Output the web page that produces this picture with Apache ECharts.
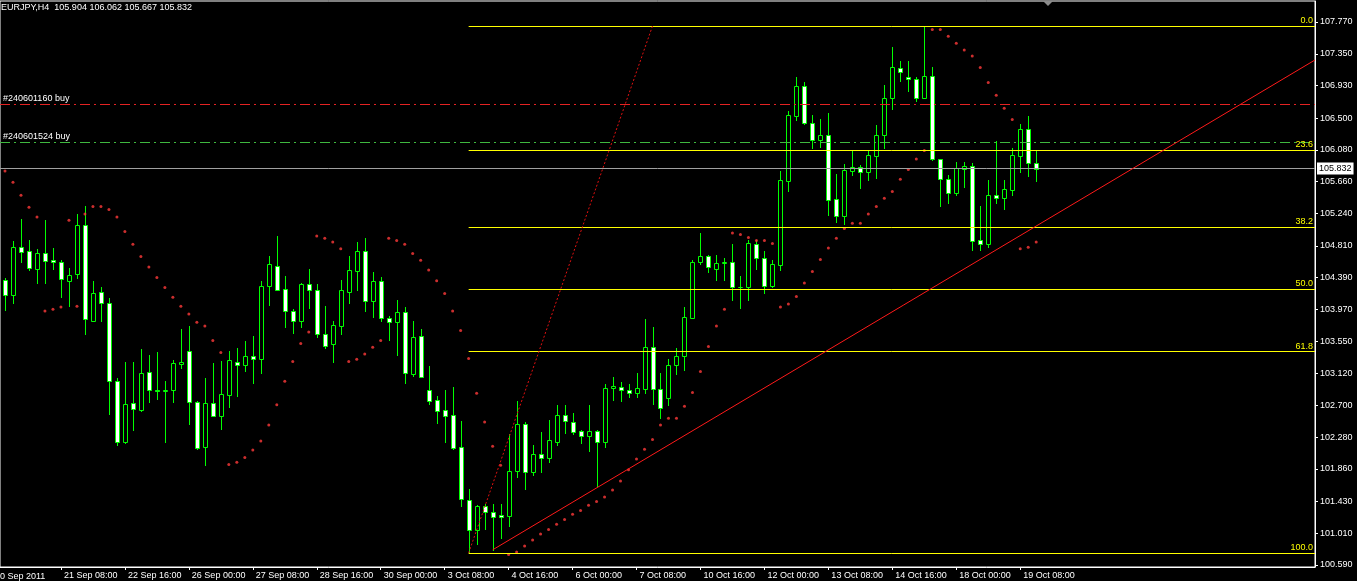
<!DOCTYPE html>
<html>
<head>
<meta charset="utf-8">
<script src="https://cdn.jsdelivr.net/npm/echarts@6/dist/echarts.min.js"></script>
<style>
html,body{margin:0;padding:0;background:#000;}
#chart{width:1357px;height:581px;}
</style>
</head>
<body>
<div id="chart"></div>
<script>
// ---------- DATA (EURJPY, H4) ----------
const symbolName = 'EURJPY,H4';
const firstDateLabel = '20 Sep 2011';

const opens = [
104.36,104.16,104.79,104.74,104.51,104.71,104.62,104.59,104.35,104.44,
105.08,103.82,104.20,104.06,103.02,102.22,102.73,102.64,103.14,102.90,
102.89,102.90,103.25,103.42,102.75,102.15,102.73,102.56,102.84,103.28,
103.24,103.35,103.32,104.28,104.55,104.24,103.95,103.81,104.31,104.22,
103.65,103.51,103.75,104.20,104.48,104.74,104.08,104.34,103.85,103.80,
103.93,103.12,103.62,102.90,102.77,102.64,102.57,102.15,101.45,101.05,
101.37,101.29,101.25,101.24,101.83,102.46,101.82,102.06,102.01,102.22,
102.57,102.48,102.36,102.30,102.36,102.22,102.93,102.94,102.91,102.87,
102.92,103.47,102.92,102.80,103.23,103.36,103.86,104.59,104.67,104.50,
104.58,104.59,104.26,104.27,104.84,104.65,104.28,104.56,105.67,106.53,
106.92,106.43,106.21,106.27,105.43,105.21,105.80,105.85,105.78,106.00,
106.27,106.77,107.16,107.04,107.01,106.77,107.05,105.96,105.69,105.51,
105.83,105.87,104.89,104.83,105.48,105.44,105.55,106.00,106.36,105.904
];
const highs = [
104.39,104.87,105.17,104.89,104.77,105.15,104.78,104.62,104.52,105.23,
105.34,104.35,104.26,104.12,103.06,103.27,103.27,103.45,103.37,103.40,
103.02,103.30,103.71,103.75,102.76,103.06,103.26,103.29,103.42,103.46,
103.55,103.62,104.35,104.68,104.94,104.41,103.97,104.32,104.50,104.30,
104.01,103.81,104.36,104.68,104.86,104.91,104.46,104.40,103.88,104.09,
104.00,103.81,103.71,103.22,102.82,102.90,102.95,102.50,101.60,101.38,
101.40,101.40,101.40,102.32,102.76,102.48,102.18,102.35,102.51,102.71,
102.71,102.60,102.38,102.71,102.38,102.98,103.08,103.01,102.98,103.13,
103.84,103.74,103.13,103.31,103.46,104.00,104.62,104.98,104.69,104.69,
104.65,104.84,104.41,104.89,104.89,104.74,104.62,105.80,106.59,107.04,
106.98,106.54,106.49,106.57,105.76,105.89,106.06,105.88,106.07,106.41,
106.94,107.44,107.25,107.25,107.04,107.717,107.18,105.96,105.75,105.92,
105.92,105.90,105.34,105.68,106.20,105.68,106.10,106.42,106.53,106.062
];
const lows = [
103.96,104.06,104.59,104.49,104.32,104.32,104.51,104.14,104.01,104.39,
103.64,103.81,103.81,102.58,102.18,102.20,102.38,102.63,102.75,102.79,
102.22,102.74,103.20,102.46,102.13,101.91,102.56,102.39,102.68,102.82,
103.15,102.99,103.13,104.03,104.22,103.74,103.66,103.74,103.99,103.60,
103.46,103.28,103.65,104.06,104.23,103.95,103.87,103.82,103.56,103.37,
103.00,103.09,103.07,102.72,102.47,102.21,102.13,101.37,100.749,100.87,
101.07,100.79,100.95,101.10,101.76,101.59,101.78,101.82,101.95,102.18,
102.34,102.32,102.20,102.10,101.64,102.15,102.77,102.76,102.81,102.81,
102.87,102.72,102.53,102.71,103.12,103.17,103.85,104.57,104.46,104.36,
104.36,104.09,103.99,104.10,104.50,104.18,104.27,104.49,105.54,106.47,
106.42,106.10,106.12,105.22,105.13,105.10,105.75,105.57,105.68,105.71,
106.11,106.62,106.99,106.86,106.73,106.76,105.94,105.34,105.38,105.48,
105.59,104.76,104.76,104.79,105.38,105.30,105.48,105.78,105.74,105.667
];
const closes = [
104.16,104.79,104.73,104.52,104.71,104.61,104.60,104.37,104.43,105.08,
103.84,104.18,104.06,103.02,102.22,102.72,102.65,103.13,102.90,102.89,
102.90,103.26,103.28,102.74,102.14,102.73,102.56,102.85,103.30,103.24,
103.35,103.32,104.28,104.57,104.23,103.95,103.81,104.31,104.22,103.65,
103.49,103.76,104.22,104.49,104.74,104.08,104.34,103.85,103.80,103.93,
103.13,103.61,103.07,102.76,102.63,102.56,102.14,101.46,101.05,101.37,
101.29,101.22,101.22,101.83,102.46,101.82,102.06,102.01,102.24,102.57,
102.49,102.35,102.30,102.36,102.22,102.93,102.96,102.90,102.87,102.93,
103.47,102.92,102.66,103.23,103.36,103.87,104.59,104.68,104.53,104.58,
104.59,104.26,104.27,104.85,104.65,104.28,104.57,105.68,106.54,106.93,
106.43,106.21,106.27,105.42,105.21,105.81,105.85,105.78,106.01,106.27,
106.77,107.17,107.11,107.01,106.77,107.05,105.96,105.69,105.51,105.84,
105.87,104.88,104.83,105.48,105.44,105.56,106.01,106.36,105.90,105.832
];
// Parabolic SAR
const sar = [
105.80,105.65,105.48,105.32,105.19,103.95,103.97,104.00,105.15,104.01,
105.23,105.33,105.33,105.29,105.19,105.00,104.83,104.67,104.53,104.39,
104.26,104.13,104.01,103.91,103.80,103.75,103.56,103.40,101.92,101.95,
102.01,102.11,102.23,102.44,102.71,103.02,103.28,103.52,103.67,104.94,
104.91,104.86,104.77,103.28,103.31,103.38,103.47,103.56,104.91,104.88,
104.83,104.71,104.62,104.49,104.35,104.18,103.95,103.69,103.32,102.86,
102.48,102.16,101.91,100.73,100.76,100.84,100.92,101.00,101.06,101.13,
101.19,101.26,101.31,101.38,101.43,101.49,101.58,101.70,101.85,101.99,
102.12,102.25,102.44,102.53,102.53,102.69,102.87,103.15,103.48,103.75,
103.97,104.98,104.96,104.92,104.88,104.88,104.84,104.00,104.04,104.14,
104.32,104.47,104.63,104.78,104.91,105.04,105.11,105.11,105.23,105.33,
105.44,105.53,105.69,105.82,105.96,106.07,107.67,107.67,107.58,107.49,
107.40,107.32,107.17,106.97,106.80,106.63,106.48,104.77,104.79,104.86
];

// time-axis labels (bar index -> label)
const xTickIndex = [7,15,23,31,39,47,55,63,71,79,87,95,103,111,119,127];
const xTickLabels = ['21 Sep 08:00','22 Sep 16:00','26 Sep 00:00','27 Sep 08:00','28 Sep 16:00',
  '30 Sep 00:00','3 Oct 08:00','4 Oct 16:00','6 Oct 00:00','7 Oct 08:00','10 Oct 16:00',
  '12 Oct 00:00','13 Oct 08:00','14 Oct 16:00','18 Oct 00:00','19 Oct 08:00'];
// price-axis labels
const yTickValues = [107.770,107.350,106.930,106.500,106.080,105.660,105.240,104.810,104.390,
  103.970,103.550,103.120,102.700,102.280,101.860,101.430,101.010,100.590];

// Fibonacci retracement
const fibHigh = 107.717, fibLow = 100.749;
const fibStartIndex = 58, fibEndIndex = 81;
const fibLevels = [0.0, 23.6, 38.2, 50.0, 61.8, 100.0];
// trend line anchors [barIndex, price]
const trendStart = [61, 100.79];
const trendEnd = [163.875, 107.268];
// order lines
const orderNames = ['#240601160 buy', '#240601524 buy'];
const orderPrices = [106.682, 106.183];
const orderColors = ['#e42222', '#3fb83f'];
const lastPrice = 105.832;

// axis ranges
const xMin = -0.625, xMax = 163.875;
const yMin = 100.5633, yMax = 108.0477;

// ---------- CHART ----------
const LIME = '#00ff00';
const FONT = 'Liberation Sans, Arial, sans-serif';
const candleData = opens.map((o, i) => [i, o, highs[i], lows[i], closes[i]]);
const sarData = sar.map((v, i) => [i, v]);
const n = opens.length;

function renderCandle(params, api) {
  const i = api.value(0), o = api.value(1), h = api.value(2), l = api.value(3), c = api.value(4);
  const pO = api.coord([i, o]), pC = api.coord([i, c]);
  const pH = api.coord([i, h]), pL = api.coord([i, l]);
  const x = Math.round(pO[0]) + 0.5;
  const top = Math.round(Math.min(pO[1], pC[1])) + 0.5;
  const bot = Math.round(Math.max(pO[1], pC[1])) + 0.5;
  const bull = c > o;
  return {
    type: 'group',
    children: [
      { type: 'line', shape: { x1: x, y1: Math.round(pH[1]), x2: x, y2: Math.round(pL[1]) + 1 },
        style: { stroke: LIME, lineWidth: 1 } },
      { type: 'rect', shape: { x: x - 2, y: top, width: 4, height: Math.max(bot - top, 0) },
        style: { fill: bull ? '#000' : '#ffffff', stroke: LIME, lineWidth: 1 } }
    ]
  };
}

const fibMarks = fibLevels.map(r => {
  const v = fibHigh - (fibHigh - fibLow) * r / 100;
  return [
    { name: r.toFixed(1), coord: [fibStartIndex, v] },
    { coord: [xMax, v] }
  ];
});

const orderMarks = orderPrices.map((p, k) => [
  { name: orderNames[k], coord: [xMin, p],
    lineStyle: { color: orderColors[k], type: [10, 4, 2, 4], width: 1 } },
  { coord: [xMax, p] }
]);

const chart = echarts.init(document.getElementById('chart'), null, { renderer: 'canvas' });
chart.setOption({
  backgroundColor: '#000',
  animation: false,
  title: {
    text: symbolName + '  ' + [opens[n-1], highs[n-1], lows[n-1], closes[n-1]].map(v => v.toFixed(3)).join(' '),
    left: 1, top: 3, padding: 0,
    textStyle: { color: '#ffffff', fontSize: 9, fontWeight: 'normal', fontFamily: FONT }
  },
  grid: { left: -1, right: 42, top: 1, bottom: 14, show: true, borderColor: '#ffffff', borderWidth: 1, backgroundColor: '#000' },
  xAxis: {
    type: 'value', min: xMin, max: xMax,
    splitLine: { show: false },
    axisLine: { show: true, onZero: false, lineStyle: { color: '#ffffff' } },
    axisTick: { show: true, length: 3, lineStyle: { color: '#ffffff' }, customValues: xTickIndex },
    axisLabel: {
      customValues: xTickIndex, color: '#ffffff', fontSize: 9, fontFamily: FONT,
      align: 'left', margin: 4, padding: [0, 0, 0, 3],
      formatter: v => xTickLabels[xTickIndex.indexOf(Math.round(v))] || ''
    }
  },
  yAxis: {
    type: 'value', position: 'right', min: yMin, max: yMax, scale: true,
    splitLine: { show: false },
    axisLine: { show: true, onZero: false, lineStyle: { color: '#ffffff' } },
    axisTick: { show: true, length: 3, lineStyle: { color: '#ffffff' }, customValues: yTickValues },
    axisLabel: {
      customValues: yTickValues, color: '#ffffff', fontSize: 9, fontFamily: FONT, margin: 5,
      formatter: v => v.toFixed(3)
    }
  },
  graphic: [
    { type: 'text', x: -5, y: 572, silent: true,
      style: { text: firstDateLabel, fill: '#ffffff', font: '9px ' + FONT, textVerticalAlign: 'top' } },
    { type: 'polygon', silent: true, shape: { points: [[1043, 1], [1053, 1], [1048, 6]] },
      style: { fill: '#8c8c8c' } }
  ],
  series: [
    {
      type: 'line', data: [], silent: true, z: 1,
      markLine: {
        silent: true, symbol: 'none', animation: false,
        lineStyle: { color: '#ffff00', type: 'solid', width: 1 },
        label: { show: true, position: 'insideEndTop', formatter: '{b}', color: '#ffff00',
          fontSize: 9, fontFamily: FONT, distance: [2, 1] },
        data: fibMarks
      }
    },
    {
      type: 'line', data: [], silent: true, z: 1,
      markLine: {
        silent: true, symbol: 'none', animation: false,
        label: { show: true, position: 'insideStartTop', formatter: '{b}', color: '#ffffff',
          fontSize: 9, fontFamily: FONT, distance: [3, 1] },
        data: orderMarks
      }
    },
    {
      type: 'line', data: [], silent: true, z: 1,
      markLine: {
        silent: true, symbol: 'none', animation: false,
        data: [
          [ { coord: [xMin, lastPrice], lineStyle: { color: '#a0a0a0', type: 'solid', width: 1 },
              label: { show: true, position: 'end', formatter: lastPrice.toFixed(3), color: '#000',
                backgroundColor: '#ffffff', fontSize: 9, fontFamily: FONT, padding: [2, 2, 1, 2], distance: 2 } },
            { coord: [xMax, lastPrice] } ],
          [ { coord: trendStart, lineStyle: { color: '#ff1a1a', type: 'solid', width: 1 }, label: { show: false } },
            { coord: trendEnd } ],
          [ { coord: [fibStartIndex, fibLow], lineStyle: { color: '#e01010', type: [2, 2], width: 1 }, label: { show: false } },
            { coord: [fibEndIndex, fibHigh] } ]
        ]
      }
    },
    {
      type: 'custom', name: 'EURJPY', renderItem: renderCandle, z: 3,
      encode: { x: 0, y: [1, 2, 3, 4] },
      data: candleData, clip: true
    },
    {
      type: 'scatter', name: 'SAR', data: sarData, symbol: 'circle', symbolSize: 3, z: 4,
      itemStyle: { color: '#ff3a3a' }, silent: true
    }
  ]
});
</script>
</body>
</html>
